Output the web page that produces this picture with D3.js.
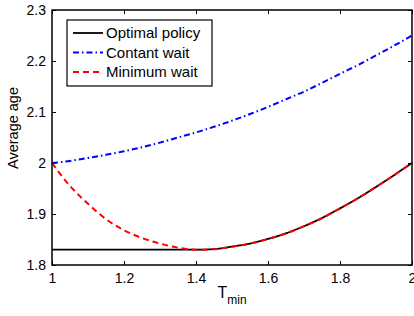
<!DOCTYPE html>
<html>
<head>
<meta charset="utf-8">
<script src="https://cdn.jsdelivr.net/npm/d3@7"></script>
<style>
  body { margin: 0; background: #fff; }
  text { font-family: "Liberation Sans", Arial, sans-serif; fill: #000; }
</style>
</head>
<body>
<svg class="chart" width="414" height="316"></svg>
<script>
// values
const tGrid = [1.0, 1.05, 1.1, 1.15, 1.2, 1.25, 1.3, 1.35, 1.4, 1.45, 1.5, 1.55, 1.6, 1.65, 1.7, 1.75, 1.8, 1.85, 1.9, 1.95, 2.0]
const optimalPolicy = [1.83, 1.83, 1.83, 1.83, 1.83, 1.83, 1.83, 1.83, 1.83, 1.831, 1.836, 1.842, 1.851, 1.862, 1.876, 1.892, 1.911, 1.931, 1.953, 1.976, 2.0]
const minimumWait = [2.0, 1.955, 1.92, 1.89, 1.868, 1.853, 1.842, 1.834, 1.83, 1.831, 1.836, 1.842, 1.851, 1.862, 1.876, 1.892, 1.911, 1.931, 1.953, 1.976, 2.0]
const constantWait = [2.0, 2.004, 2.01, 2.016, 2.023, 2.031, 2.04, 2.05, 2.06, 2.071, 2.083, 2.096, 2.11, 2.125, 2.14, 2.157, 2.175, 2.192, 2.211, 2.23, 2.25]

const xTicks = [1, 1.2, 1.4, 1.6, 1.8, 2]
const yTicks = [1.8, 1.9, 2, 2.1, 2.2, 2.3]

const seriesNames = ["Optimal policy", "Contant wait", "Minimum wait"]
const seriesColors = ["#000000", "#0000ff", "#ff0000"]
const seriesDash = [null, "6,3,1.5,3", "6,4"]
const seriesValues = [optimalPolicy, constantWait, minimumWait]

const svg = d3.select("svg.chart")
const pLeft = 52, pTop = 10, pRight = 412, pBottom = 265

const x = d3.scaleLinear().domain([1, 2]).range([pLeft, pRight])
const y = d3.scaleLinear().domain([1.8, 2.3]).range([pBottom, pTop])

const tickFmt = d => d3.format("")(+d.toFixed(1))

// axes with inward ticks
svg.append("g")
    .attr("transform", "translate(0," + pBottom + ")")
    .call(d3.axisBottom(x).tickValues(xTicks).tickSize(-4).tickPadding(8).tickFormat(tickFmt))
svg.append("g")
    .attr("transform", "translate(0," + pTop + ")")
    .call(d3.axisTop(x).tickValues(xTicks).tickSize(-4).tickFormat(""))
svg.append("g")
    .attr("transform", "translate(" + pLeft + ",0)")
    .call(d3.axisLeft(y).tickValues(yTicks).tickSize(-4).tickPadding(6).tickFormat(tickFmt))
svg.append("g")
    .attr("transform", "translate(" + pRight + ",0)")
    .call(d3.axisRight(y).tickValues(yTicks).tickSize(-4).tickFormat(""))

svg.selectAll(".domain").remove()
svg.selectAll(".tick line").attr("stroke", "#000").attr("stroke-width", 1)
svg.selectAll(".tick text")
    .style("font-family", "Liberation Sans, Arial, sans-serif")
    .style("font-size", "14px")
    .attr("fill", "#000")

const line = d3.line()
    .x((d, i) => x(tGrid[i]))
    .y(d => y(d))
    .curve(d3.curveMonotoneX)

seriesValues.forEach((vals, k) => {
    svg.append("path")
        .datum(vals)
        .attr("fill", "none")
        .attr("stroke", seriesColors[k])
        .attr("stroke-width", k === 0 ? 1.8 : 2)
        .attr("stroke-dasharray", seriesDash[k])
        .attr("d", line)
})

// plot box
svg.append("rect")
    .attr("x", pLeft)
    .attr("y", pTop)
    .attr("width", pRight - pLeft)
    .attr("height", pBottom - pTop)
    .attr("fill", "none")
    .attr("stroke", "#000")
    .attr("stroke-width", 1.5)

// legend
const legend = svg.append("g").attr("transform", "translate(67,20)")
legend.append("rect")
    .attr("width", 145)
    .attr("height", 66)
    .attr("fill", "#fff")
    .attr("stroke", "#000")
    .attr("stroke-width", 1.2)

const rows = legend.selectAll("g.row")
    .data(seriesNames)
    .enter()
    .append("g")
    .attr("class", "row")
    .attr("transform", (d, i) => "translate(0," + (13 + i * 19.5) + ")")

rows.append("line")
    .attr("x1", 6)
    .attr("x2", 36)
    .attr("stroke", (d, i) => seriesColors[i])
    .attr("stroke-width", (d, i) => i === 0 ? 1.8 : 2)
    .attr("stroke-dasharray", (d, i) => seriesDash[i])

rows.append("text")
    .attr("x", 39)
    .attr("y", 5)
    .style("font-size", "15px")
    .text(d => d)

// axis labels
svg.append("text")
    .attr("transform", "translate(18,128) rotate(-90)")
    .attr("text-anchor", "middle")
    .style("font-size", "14.5px")
    .text("Average age")

const xl = svg.append("text")
    .attr("x", 232)
    .attr("y", 298)
    .attr("text-anchor", "middle")
    .style("font-size", "16px")
xl.append("tspan").text("T")
xl.append("tspan").attr("dy", 6).style("font-size", "12px").text("min")
</script>
</body>
</html>
